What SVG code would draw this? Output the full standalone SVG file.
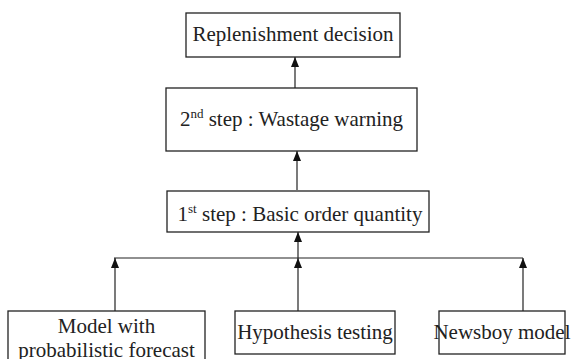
<svg xmlns="http://www.w3.org/2000/svg" width="582" height="359" viewBox="0 0 582 359">
<style>
.box{fill:#fff;stroke:#222;stroke-width:1.3}
text{font-family:"Liberation Serif","Times New Roman","DejaVu Serif",serif;font-size:21px;fill:#222;text-anchor:middle}
.sup{font-size:13px}
.c{stroke:#222;stroke-width:1.2;fill:none}
</style>
<defs>
<marker id="ah" markerUnits="userSpaceOnUse" markerWidth="10" markerHeight="8" viewBox="0 0 10 8" refX="10" refY="4" orient="auto">
<path d="M0,0 L10,4 L0,8 Z" fill="#111"/>
</marker>
</defs>
<rect width="582" height="359" fill="#fff"/>
<g id="connectors">
<line class="c" x1="295" y1="88" x2="295" y2="57" marker-end="url(#ah)"/>
<line class="c" x1="297" y1="190" x2="297" y2="151" marker-end="url(#ah)"/>
<line class="c" x1="298" y1="258" x2="298" y2="232" marker-end="url(#ah)"/>
<line class="c" x1="114" y1="258" x2="523" y2="258"/>
<line class="c" x1="115" y1="311" x2="115" y2="258" marker-end="url(#ah)"/>
<line class="c" x1="298" y1="311" x2="298" y2="258" marker-end="url(#ah)"/>
<line class="c" x1="523" y1="311" x2="523" y2="258" marker-end="url(#ah)"/>
</g>
<g id="replenishment">
<rect class="box" x="186" y="13" width="214" height="44"/>
<text x="293" y="41">Replenishment decision</text>
</g>
<g id="step2">
<rect class="box" x="166" y="88" width="251" height="63"/>
<text x="291.5" y="126">2<tspan class="sup" dy="-8">nd</tspan><tspan dy="8"> step : Wastage warning</tspan></text>
</g>
<g id="step1">
<rect class="box" x="167" y="191" width="262" height="41"/>
<text x="300" y="221">1<tspan class="sup" dy="-8">st</tspan><tspan dy="8"> step : Basic order quantity</tspan></text>
</g>
<g id="model-forecast">
<rect class="box" x="8" y="311" width="197" height="60"/>
<text x="106.5" y="333">Model with</text>
<text x="106.5" y="357">probabilistic forecast</text>
</g>
<g id="hypothesis">
<rect class="box" x="235" y="311" width="160" height="43"/>
<text x="315" y="339">Hypothesis testing</text>
</g>
<g id="newsboy">
<rect class="box" x="439" y="311" width="126" height="43"/>
<text x="502" y="339">Newsboy model</text>
</g>
</svg>
